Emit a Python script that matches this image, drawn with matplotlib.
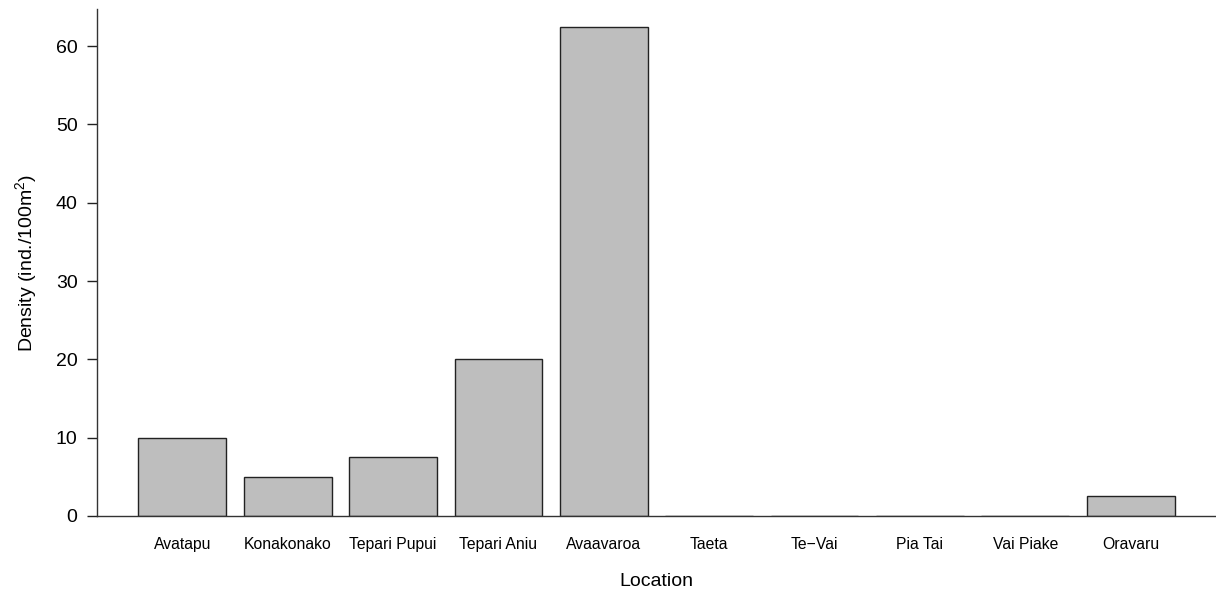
import numpy as np
import matplotlib
matplotlib.use("Agg")
from matplotlib import pyplot as plt

plt.rcParams["font.family"] = ["Liberation Sans", "DejaVu Sans"]
plt.rcParams["mathtext.fontset"] = "custom"
plt.rcParams["mathtext.rm"] = "Liberation Sans"
plt.rcParams["mathtext.it"] = "Liberation Sans:italic"

locations = ["Avatapu", "Konakonako", "Tepari Pupui", "Tepari Aniu", "Avaavaroa",
             "Taeta", "Te\u2212Vai", "Pia Tai", "Vai Piake", "Oravaru"]
density = [10, 5, 7.5, 20, 62.5, 0, 0, 0, 0, 2.5]
yticks = [0, 10, 20, 30, 40, 50, 60]

# barplot-style layout: width 1, space 0.2
xs = 0.7 + 1.2 * np.arange(len(locations))

fig = plt.figure(figsize=(12.16, 5.92), dpi=100)
ax = fig.add_axes([97 / 1216, 76 / 592, 1 - 97 / 1216, 507 / 592])

ax.bar(xs, density, width=1.0, color="#bebebe", edgecolor="#222222", linewidth=1.0)

ax.set_xlim(-0.272, 12.472)
ax.set_ylim(0, 64.75)

ax.spines["top"].set_visible(False)
ax.spines["right"].set_visible(False)
for s in ("left", "bottom"):
    ax.spines[s].set_color("#333333")
    ax.spines[s].set_linewidth(1.0)

ax.set_yticks(yticks)
ax.set_yticklabels([str(v) for v in yticks], fontsize=14, color="black")
ax.tick_params(axis="y", length=7, width=1.0, color="#222222", pad=7)

ax.set_xticks(xs)
ax.set_xticklabels(locations, fontsize=11.3, color="black")
ax.tick_params(axis="x", length=0, pad=15)

ax.set_xlabel("Location", fontsize=14, color="black")
ax.xaxis.set_label_coords(0.5, -0.112)
ax.set_ylabel(r"Density (ind./100m$^2$)", fontsize=14, color="black")
ax.yaxis.set_label_coords(-0.052, 0.5)

fig.savefig("out.png", dpi=100)
